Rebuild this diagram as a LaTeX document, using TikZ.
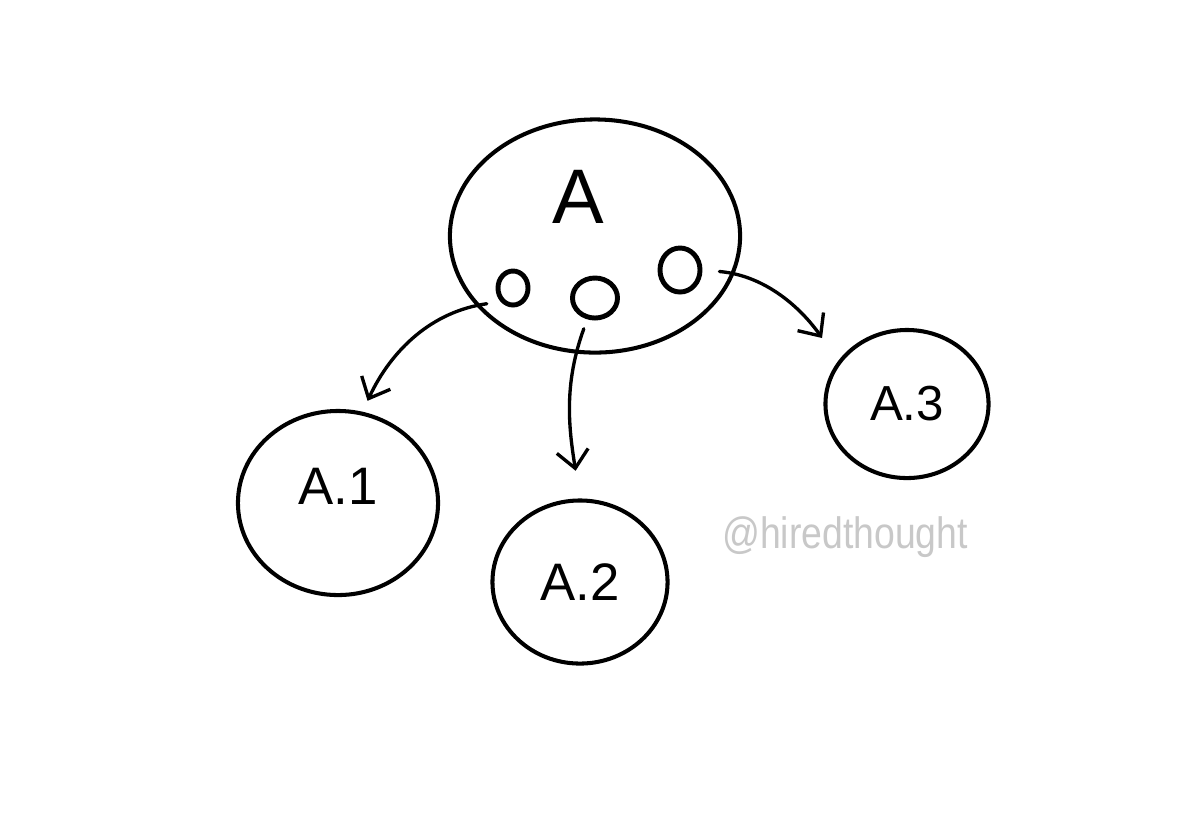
\documentclass[tikz,border=0pt]{standalone}
\usepackage{fontspec}
\setmainfont{Liberation Sans}
\usepackage{xcolor}
\usetikzlibrary{arrows.meta,shapes.geometric}
\definecolor{taggray}{HTML}{C8C8C8}

\begin{document}
\begin{tikzpicture}[x=0.01cm,y=-0.01cm,>={Straight Barb[length=5pt,width=9pt]},
  blob/.style={draw,ellipse,line width=1.15pt,inner sep=0pt},
  dot/.style={draw,ellipse,line width=1.4pt,inner sep=0pt},
  lbl/.style={inner sep=0pt,font=\fontsize{15}{15}\selectfont},
  link/.style={->,line width=0.95pt,line cap=round}]
\useasboundingbox (0,0) rectangle (1200,826);
\node[blob,minimum width=2.9cm,minimum height=2.33cm] (A) at (595,236) {};
\node[lbl,font=\fontsize{22}{22}\selectfont] (Atxt) at (578,197) {A};
\node[dot,minimum width=0.30cm,minimum height=0.34cm] (o1) at (513,288) {};
\node[dot,minimum width=0.45cm,minimum height=0.40cm] (o2) at (595,298) {};
\node[dot,minimum width=0.40cm,minimum height=0.44cm] (o3) at (680,270) {};
\node[blob,minimum width=2.0cm,minimum height=1.84cm,lbl] (A1) at (338,503) {\raisebox{1.2ex}{A.1}};
\node[blob,minimum width=1.75cm,minimum height=1.63cm,lbl] (A2) at (580,582) {A.2};
\node[blob,minimum width=1.63cm,minimum height=1.48cm,lbl,font=\fontsize{14}{14}\selectfont] (A3) at (907,404) {A.3};
\node[inner sep=0pt,text=taggray,font=\fontsize{12.5}{12.5}\selectfont,xscale=0.85,transform shape] (tag) at (845,537) {@hiredthought};
% links from the sub-circles
\draw[link,shorten <=0.14cm,shorten >=0.12cm] (o1.south west) to[out=188,in=65] (A1.75);
\draw[link,shorten <=0.1cm,shorten >=0.28cm] (o2.-110) to[out=250,in=99] (A2.north);
\draw[link,shorten <=0.17cm,shorten >=0.28cm] (o3.east) to[out=-5,in=125] (A3.148);
\end{tikzpicture}
\end{document}
